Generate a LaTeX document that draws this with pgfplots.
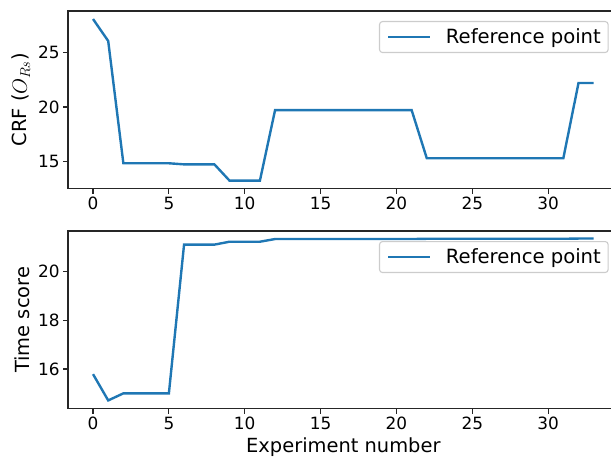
\documentclass[border=0pt]{standalone}
\usepackage{fontspec}
\setmainfont{DejaVu Sans}
\usepackage{pgfplots}
\pgfplotsset{compat=1.18}
\definecolor{mplblue}{HTML}{1F77B4}
\pgfplotsset{
  mpl/.style={
    scale only axis, width=550.7pt, height=177.7pt, anchor=south west,
    xmin=-1.65, xmax=34.65, xtick={0,5,...,30},
    axis line style={line width=1.1pt, black!85},
    every tick/.style={line width=1.1pt, black!85},
    major tick length=4.9pt, tick align=outside,
    xtick pos=bottom, ytick pos=left,
    ticklabel style={font=\fontsize{16.9}{17}\selectfont},
    /pgf/number format/assume math mode=true,
    label style={font=\fontsize{19.44}{20}\selectfont},
    legend style={at={(1,1)}, anchor=north east, xshift=-10pt, yshift=-10pt,
      draw=black!20, line width=1.1pt, rounded corners=3pt, fill=white, fill opacity=0.8, text opacity=1,
      inner xsep=7.3pt, inner ysep=7.3pt,
      font=\fontsize{19.6}{20}\selectfont,
      nodes={inner sep=0pt},
      /tikz/every odd column/.append style={column sep=15pt}},
    legend cell align=left,
    legend image code/.code={\draw[##1] (0pt,0pt) -- (41.7pt,0pt);},
  },
}
\begin{document}
\begin{tikzpicture}[x=1pt,y=1pt]
\begin{axis}[mpl, at={(68pt,267.3pt)},
  ymin=12.48, ymax=28.84, ytick={15,20,25},
  ylabel={CRF ($O_{Rs}$)},
  ylabel style={at={(axis description cs:-0.0745,0.5)}, anchor=base, inner sep=0pt},
]
\addplot[mplblue, line width=2.4pt] coordinates {
(0,28.1) (1,26.08) (2,14.82) (3,14.82) (4,14.82) (5,14.82) (6,14.72) (7,14.72) (8,14.72)
(9,13.22) (10,13.22) (11,13.22) (12,19.72) (13,19.72) (14,19.72) (15,19.72) (16,19.72)
(17,19.72) (18,19.72) (19,19.72) (20,19.72) (21,19.72) (22,15.28) (23,15.28) (24,15.28)
(25,15.28) (26,15.28) (27,15.28) (28,15.28) (29,15.28) (30,15.28) (31,15.28) (32,22.21) (33,22.21)
};
\addlegendentry{Reference point}
\end{axis}
\begin{axis}[mpl, at={(68pt,47.3pt)},
  ymin=14.37, ymax=21.67, ytick={16,18,20},
  ylabel={Time score},
  ylabel style={at={(axis description cs:-0.0699,0.5)}, anchor=base, inner sep=0pt},
  xlabel={Experiment number},
  xlabel style={at={(axis description cs:0.5,0)}, yshift=-43.7pt, anchor=base, inner sep=0pt},
]
\addplot[mplblue, line width=2.4pt] coordinates {
(0,15.79) (1,14.71) (2,15.0) (3,15.0) (4,15.0) (5,15.0) (6,21.11) (7,21.11) (8,21.11)
(9,21.23) (10,21.23) (11,21.23) (12,21.34) (13,21.34) (14,21.34) (15,21.34) (16,21.34)
(17,21.34) (18,21.34) (19,21.34) (20,21.34) (21,21.34) (22,21.35) (23,21.35) (24,21.35)
(25,21.35) (26,21.35) (27,21.35) (28,21.35) (29,21.35) (30,21.35) (31,21.35) (32,21.36) (33,21.36)
};
\addlegendentry{Reference point}
\end{axis}
\pgfresetboundingbox
\useasboundingbox (0pt,0pt) rectangle (611pt,456pt);
\end{tikzpicture}
\end{document}
